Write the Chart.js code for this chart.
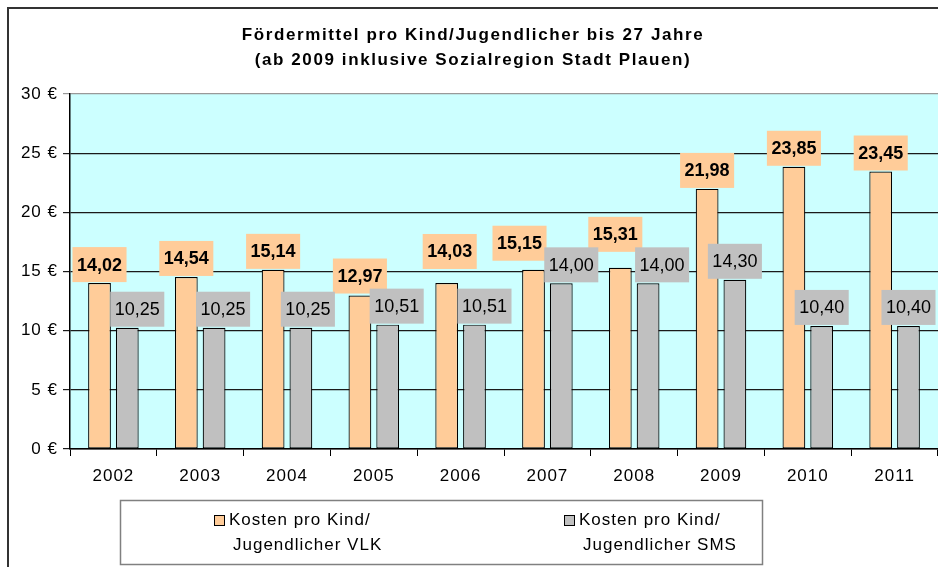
<!DOCTYPE html>
<html>
<head>
<meta charset="utf-8">
<script src="https://cdn.jsdelivr.net/npm/chart.js@4"></script>
<style>
    html,body{margin:0;padding:0;background:#fff;}
    #wrap{width:938px;height:567px;}
</style>
</head>
<body>
<div id="wrap"><canvas id="foerderChart" width="938" height="567"></canvas></div>
<script>

/* ==========================================
   DATA
========================================== */

const years = ["2002","2003","2004","2005","2006","2007","2008","2009","2010","2011"];

const kostenVLK = [14.02, 14.54, 15.14, 12.97, 14.03, 15.15, 15.31, 21.98, 23.85, 23.45];

const kostenSMS = [10.25, 10.25, 10.25, 10.51, 10.51, 14.00, 14.00, 14.30, 10.40, 10.40];

const seriesNames = [
    ["Kosten pro Kind/", "Jugendlicher VLK"],
    ["Kosten pro Kind/", "Jugendlicher SMS"]
];

const titleLines = [
    "Fördermittel pro Kind/Jugendlicher bis 27 Jahre",
    "(ab 2009 inklusive Sozialregion Stadt Plauen)"
];

/* ==========================================
   STYLE
========================================== */

const orange = "#FFCC99";
const grey = "#C0C0C0";
const fontFamily = "'Liberation Sans', Arial, sans-serif";

// hand-placed label nudges (px), as in the original sheet
const labelNudgeX = [
    [0, 0, 0, 0, 3, -14, -5, 0, 0, 0],
    [10, 9, 7, 9, 10, 10, 14, 0, 0, 0]
];
const labelLift = [
    [0, 0, 0, 1, 13, 8, 15, 0, 0, 0],
    [0, 0, 0, 0, 0, 0, 0, 0, 0, 0]
];

function euro(v){
    return v.toFixed(2).replace(".", ",");
}

/* ==========================================
   PLUGINS
========================================== */

const frameAndTitle = {
    id:"frameAndTitle",
    beforeDraw(chart){
        const ctx = chart.ctx;
        const a = chart.chartArea;
        ctx.save();
        ctx.fillStyle = "#fff";
        ctx.fillRect(0,0,chart.width,chart.height);

        // plot background
        ctx.fillStyle = "#CCFFFF";
        ctx.fillRect(a.left,a.top,a.right-a.left,a.bottom-a.top);

        // outer frame
        ctx.strokeStyle = "#333";
        ctx.lineWidth = 2;
        ctx.strokeRect(8,8,chart.width+20,chart.height+20);

        // title
        ctx.fillStyle = "#000";
        ctx.font = "bold 17px " + fontFamily;
        ctx.letterSpacing = "1.6px";
        ctx.textAlign = "center";
        ctx.textBaseline = "middle";
        titleLines.forEach((t,i)=>{
            ctx.fillText(t, 473, 35 + i*25);
        });
        ctx.restore();

        // axis text spacing
        ctx.letterSpacing = "1px";
    }
};

const barLabels = {
    id:"barLabels",
    afterDatasetsDraw(chart){
        const ctx = chart.ctx;
        ctx.save();
        ctx.letterSpacing = "0px";
        ctx.textAlign = "center";
        ctx.textBaseline = "middle";
        chart.data.datasets.forEach((ds,di)=>{
            const meta = chart.getDatasetMeta(di);
            ctx.font = (di===0 ? "bold " : "") + "18px " + fontFamily;
            meta.data.forEach((bar,i)=>{
                const txt = euro(ds.data[i]);
                const w = ctx.measureText(txt).width + 9;
                const h = 35;
                const cx = bar.x + labelNudgeX[di][i];
                const bottom = bar.y - 1 - labelLift[di][i];
                ctx.fillStyle = di===0 ? orange : grey;
                ctx.fillRect(cx - w/2, bottom - h, w, h);
                ctx.fillStyle = "#000";
                ctx.fillText(txt, cx, bottom - h/2 + 1);
            });
        });
        ctx.restore();
    }
};

const boxLegend = {
    id:"boxLegend",
    afterDraw(chart){
        const ctx = chart.ctx;
        ctx.save();
        ctx.strokeStyle = "#808080";
        ctx.lineWidth = 1.5;
        ctx.strokeRect(120.5,500.5,642,64);

        ctx.font = "17px " + fontFamily;
        ctx.letterSpacing = "1px";
        ctx.textBaseline = "middle";
        ctx.textAlign = "left";
        const starts = [214, 564];
        chart.data.datasets.forEach((ds,di)=>{
            const x = starts[di];
            ctx.fillStyle = ds.backgroundColor;
            ctx.fillRect(x, 515, 10, 10);
            ctx.strokeStyle = "#000";
            ctx.lineWidth = 1;
            ctx.strokeRect(x+0.5, 515.5, 10, 10);
            ctx.fillStyle = "#000";
            const lines = seriesNames[di];
            ctx.fillText(lines[0], x + 15, 520);
            ctx.fillText(lines[1], x + 19, 545);
        });
        ctx.restore();
    }
};

/* ==========================================
   CHART
========================================== */

const ctx = document.getElementById("foerderChart").getContext("2d");

new Chart(ctx,{

    type:"bar",

    data:{
        labels:years,
        datasets:[
            {
                label:seriesNames[0].join(" "),
                data:kostenVLK,
                backgroundColor:orange,
                borderColor:"#000",
                borderWidth:1.2,
                borderSkipped:false,
                barPercentage:0.82,
                categoryPercentage:0.64
            },
            {
                label:seriesNames[1].join(" "),
                data:kostenSMS,
                backgroundColor:grey,
                borderColor:"#000",
                borderWidth:1.2,
                borderSkipped:false,
                barPercentage:0.82,
                categoryPercentage:0.64
            }
        ]
    },

    options:{

        responsive:false,
        animation:false,
        devicePixelRatio:1,

        layout:{
            padding:{top:94,left:0,right:0,bottom:0}
        },

        plugins:{
            legend:{display:false},
            title:{display:false},
            tooltip:{enabled:false}
        },

        scales:{

            x:{
                afterFit(scale){ scale.height = 118; },
                ticks:{
                    color:"#000",
                    font:{family:fontFamily,size:17},
                    padding:10,
                    maxRotation:0
                },
                grid:{
                    offset:true,
                    drawOnChartArea:false,
                    tickLength:7,
                    color:"#000"
                },
                border:{color:"#000",width:1.5}
            },

            y:{
                min:0,
                max:30,
                afterFit(scale){ scale.width = 70; },
                ticks:{
                    stepSize:5,
                    color:"#000",
                    font:{family:fontFamily,size:17},
                    padding:5,
                    callback:v=>v+"\u00A0€"
                },
                grid:{
                    tickLength:7,
                    lineWidth:1.2,
                    color:c=> c.tick && c.tick.value===30 ? "#999" : "#1a1a1a"
                },
                border:{color:"#000",width:1.5}
            }

        }

    },

    plugins:[frameAndTitle, barLabels, boxLegend]

});

</script>
</body>
</html>
